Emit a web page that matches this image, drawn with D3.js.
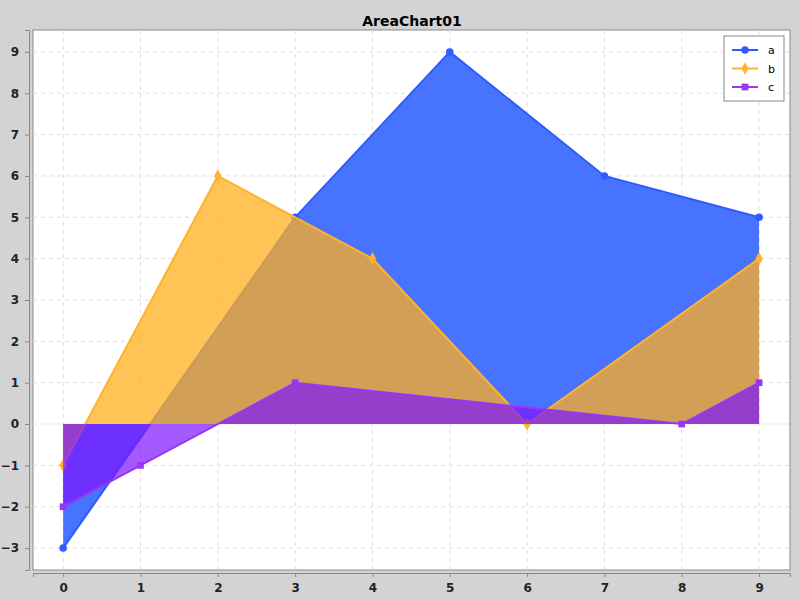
<!DOCTYPE html>
<html><head><meta charset="utf-8">
<script src="https://cdn.jsdelivr.net/npm/d3@7"></script>
<style>body{margin:0;background:#d3d3d3}text{font-family:"DejaVu Sans",sans-serif}</style>
</head><body>
<svg id="chart" width="800" height="600"></svg>
<script>
var xTicks = [0,1,2,3,4,5,6,7,8,9];
var yTicks = [-3,-2,-1,0,1,2,3,4,5,6,7,8,9];
var seriesNames = ["a","b","c"];
var aPoints = [[0,-3],[3,5],[5,9],[7,6],[9,5]];
var bPoints = [[0,-1],[2,6],[4,4],[6,0],[9,4]];
var cPoints = [[0,-2],[1,-1],[3,1],[8,0],[9,1]];
var lineColors = ["#2f5cff","#ffb22c","#9a35f5"];
var fillColors = ["rgba(40,90,255,0.85)","rgba(255,175,30,0.75)","rgba(125,20,255,0.7)"];
var markers = [d3.symbolCircle, d3.symbolDiamond, d3.symbolSquare];

var svg = d3.select('#chart');
var L = 33, T = 30, R = 790, B = 570;
var x = d3.scaleLinear().domain([-0.39, 9.4]).range([L, R]);
var y = d3.scaleLinear().domain([-3.53, 9.53]).range([B, T]);

svg.append('rect').attr('x', L).attr('y', T).attr('width', R-L).attr('height', B-T)
   .attr('fill', '#fff').attr('stroke', '#888');

svg.append('g').selectAll('line').data(xTicks).join('line')
   .attr('x1', d => x(d)).attr('x2', d => x(d)).attr('y1', T).attr('y2', B)
   .attr('stroke', '#ddd').attr('stroke-dasharray', '4,4');
svg.append('g').selectAll('line').data(yTicks).join('line')
   .attr('y1', d => y(d)).attr('y2', d => y(d)).attr('x1', L).attr('x2', R)
   .attr('stroke', '#ddd').attr('stroke-dasharray', '4,4');

var data = [aPoints, bPoints, cPoints];
var area = d3.area().x(d => x(d[0])).y0(y(0)).y1(d => y(d[1]));
var line = d3.line().x(d => x(d[0])).y(d => y(d[1]));

data.forEach(function(pts, i) {
   svg.append('path').attr('d', area(pts)).attr('fill', fillColors[i]);
   svg.append('path').attr('d', line(pts)).attr('fill', 'none')
      .attr('stroke', lineColors[i]).attr('stroke-width', 2);
   svg.append('g').selectAll('path').data(pts).join('path')
      .attr('transform', d => 'translate(' + x(d[0]) + ',' + y(d[1]) + ')')
      .attr('d', d3.symbol().type(markers[i]).size(i == 1 ? 50 : 45))
      .attr('fill', lineColors[i]);
});

var yAxis = d3.axisLeft(y).tickValues(yTicks).tickSize(4).tickPadding(6);
svg.append('g').attr('transform', 'translate(29,0)').call(yAxis)
   .call(g => g.select('.domain').attr('stroke', '#888'))
   .call(g => g.selectAll('.tick line').attr('stroke', '#888'))
   .call(g => g.selectAll('text').attr('font-size', 12).attr('font-weight', 'bold').attr('fill', '#222'));
var xAxis = d3.axisBottom(x).tickValues(xTicks).tickSize(4).tickPadding(6);
svg.append('g').attr('transform', 'translate(0,573)').call(xAxis)
   .call(g => g.select('.domain').attr('stroke', '#888'))
   .call(g => g.selectAll('.tick line').attr('stroke', '#888'))
   .call(g => g.selectAll('text').attr('font-size', 12).attr('font-weight', 'bold').attr('fill', '#222'));

svg.append('text').attr('x', 412).attr('y', 26).attr('text-anchor', 'middle')
   .attr('font-size', 14).attr('font-weight', 'bold').text('AreaChart01');

var lg = svg.append('g').attr('transform', 'translate(724,36)');
lg.append('rect').attr('width', 60).attr('height', 65).attr('fill', '#fff').attr('stroke', '#888');
seriesNames.forEach(function(n, i) {
   var yy = 14 + i * 18.5;
   lg.append('line').attr('x1', 8).attr('x2', 34).attr('y1', yy).attr('y2', yy)
      .attr('stroke', lineColors[i]).attr('stroke-width', 2);
   lg.append('path').attr('transform', 'translate(21,' + yy + ')')
      .attr('d', d3.symbol().type(markers[i]).size(45)).attr('fill', lineColors[i]);
   lg.append('text').attr('x', 44).attr('y', yy + 4).attr('font-size', 11).text(n);
});
</script>
</body></html>
